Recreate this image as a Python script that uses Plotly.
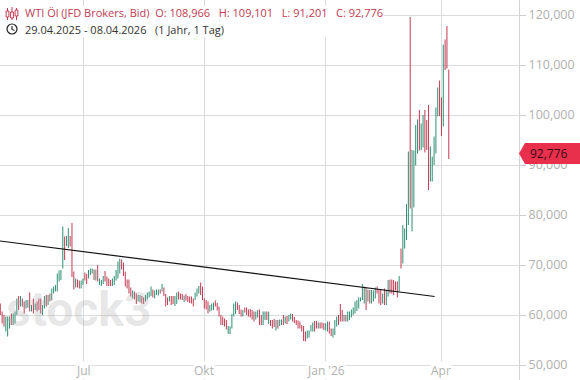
import plotly.graph_objects as go

bar_high = [
 62.3,60.7,60,59.7,59.7,59.7,60.3,60.3,60.7,63.3,
 63.8,63.8,63.3,62.7,63,63,64.5,62,63.3,62.3,
 62.7,63.3,63.3,62,63.8,64,64,64.3,65.3,65.7,
 66,68.3,68.9,69,77.7,75.7,75.8,77.4,75.8,78.4,
 68.7,67.3,67.1,66.9,66.9,67.3,68.5,68.2,69,69.3,
 69.3,69.1,69.1,70,67.3,67,67.8,68.8,67.7,67.3,
 67,67.3,67.8,69,70.7,71.3,71.1,70.5,68.7,67.1,
 67.1,65.5,64.9,64.7,64.3,64,64,63.8,63.5,64,
 64.5,64.7,65.7,65.1,64.9,65.1,65.1,65.1,66.2,65.5,
 64.2,63.5,63.8,63.8,63.8,63.8,64.5,64.7,64.3,64.2,
 63.9,64.2,63.8,63.7,63.7,63.3,64.5,65.3,65.8,66.5,
 65.7,63.3,63,62.7,62,62.3,62.5,62.9,62.4,61.7,
 60,59.7,59.3,59,57.8,57.7,60.2,62.3,62.7,62.5,
 62,61.1,61,61.5,61.5,61.1,61.2,61,60.7,60.7,
 61,61.1,60,60.7,60.7,60.7,60.7,59,59,59.2,
 59,59,59.1,59.1,60,59.7,59.8,60,60.3,60.2,
 59.6,59,58.9,58.7,58,57.8,56.7,56.9,56.9,58,
 58.5,58.8,58.8,58.5,58.5,58.5,58.4,58.3,58.7,58.7,
 57.3,57.3,59,59.7,60,62.2,61,60,60,60.7,
 60.7,61.1,61.5,62.7,63,63.5,63.5,66.2,65.7,65.5,
 65.1,65,65,64.9,65.5,65.7,65,65,64.3,65.3,
 65,67,67.1,67.1,67,66.7,66.7,67.8,73.3,78,
 77.3,82.2,92.7,119.6,93,92.9,98,99.1,101,98.3,
 100,101,99,102,93.7,91.7,95.7,101.5,105.5,106.9,
 103.5,114.1,115.1,117.8,109.101,
]
bar_low = [
 60,58.3,57.7,56.7,55.7,57.3,58,58,58.3,60,
 61,61.7,61.7,60.3,61.3,61.5,60.7,60.7,60.3,61,
 60.7,61,60.3,60,61.3,61.7,62,62.7,62.9,64.3,
 64.7,64.7,66.7,67,69.3,71,73.8,73.4,73.7,67.6,
 65.1,65.5,65.5,65.3,65.3,66,66.9,66.2,67.3,68,
 68.3,67,66.9,66.7,66,65.8,66.2,66.7,65.8,65.8,
 65.8,65.8,66,66.9,67.3,68.3,69.1,67.8,65.7,65.3,
 64.3,63.7,63.3,63.1,62.2,62.7,62.5,62.3,62.2,62.7,
 63.1,63.5,63.8,63.5,63.3,64,63.9,64.3,64.7,63.8,
 61.7,62,62.7,62,62.2,61.8,62.2,63.1,63.1,63,
 62.6,62.9,62.6,62.4,62.3,61.7,63,63.7,64.3,64,
 63,61.3,61.1,60.3,60.7,60.9,61,61.7,60.9,59.7,
 58,58,57.7,57.1,56.2,56.2,57.3,59.7,60.2,61,
 60.2,59.7,59.7,60.5,60,59.7,59.5,59.1,58.7,59.1,
 59.5,58,58,58,59,59,58.2,57.8,57.3,57.6,
 56.9,57.3,57.8,58,58,58.3,58.2,58.7,59.1,58.7,
 58.4,58,57.3,57.3,56.7,54.8,54.7,55.3,55.5,56.7,
 56.7,56.7,57.3,57.3,57.3,57.3,57,56.9,56.7,56.3,
 55.8,55.5,56,57.7,58,58.7,58.7,58.7,58.7,58.7,
 59,59.5,60,60.3,60.8,61.3,62.7,63,62.3,61,
 62.7,62.3,62.3,62.7,63.3,64.3,62.3,62,62.3,62,
 62,63.7,64.3,64.3,64,64.9,63.5,64.7,69.3,70.3,
 73.3,75,78,81.3,76.7,81.5,89.9,92.3,92.9,93,
 93.5,92.5,93,85,86.7,86.7,90,92.3,99.7,99.8,
 95.8,97.7,109,109.3,91.201,
]
# r = falling bar, g = rising bar
bar_dir = ("rrrgggrggg" "rgrrggrgrg" "rrrggrgrgg" "gggggrggrr" "rgrrggrrgg"
           "grgrgggrrr" "rgggggrrrr" "rrgrrggrrg" "gggrgggrgr" "rrgrrggrrr"
           "grrrrrgggr" "rrrrgggrrr" "rrrrgggggr" "rrgrrrrrrg" "grrggrgrrr"
           "grggrgrggr" "rrrrrrrggg" "grrgrrrggr" "rgggrrrgrg" "gggggggggr"
           "grgggrrrgr" "ggrrrrrgrg" "gggrggggrg" "grrrgggggr" "rgrrr")
bar_index = list(range(len(bar_high)))

month_index = [45, 111, 177, 240]
month_labels = ["Jul", "Okt", "Jan '26", "Apr"]
price_ticks = [50, 60, 70, 80, 90, 100, 110, 120]
trend_index = [-0.16, 236.3]
trend_value = [74.8, 63.7]
last_price = 92.776

header_line1 = "WTI Öl (JFD Brokers, Bid)  O: 108,966   H: 109,101   L: 91,201   C: 92,776"
header_line2 = "29.04.2025 - 08.04.2026   (1 Jahr, 1 Tag)"

UP, DOWN = "#2f8f74", "#c23a52"
bar_open = [h if d == "r" else l for h, l, d in zip(bar_high, bar_low, bar_dir)]
bar_close = [l if d == "r" else h for h, l, d in zip(bar_high, bar_low, bar_dir)]

fig = go.Figure()
fig.add_trace(go.Ohlc(
    x=bar_index, open=bar_open, high=bar_high, low=bar_low, close=bar_close,
    tickwidth=0,
    increasing=dict(line=dict(color=UP, width=1)),
    decreasing=dict(line=dict(color=DOWN, width=1)),
    showlegend=False, hoverinfo="skip"))
fig.add_trace(go.Scatter(x=trend_index, y=trend_value, mode="lines",
                         line=dict(color="#111111", width=1.2),
                         showlegend=False, hoverinfo="skip"))

W = 519.0
H = 380.0
def px(v): return v / W
def py(v): return 1 - v / H

shapes = [
    dict(type="rect", xref="paper", yref="paper", x0=0, x1=px(383), y0=py(37), y1=py(6),
         fillcolor="white", line_width=0, layer="above"),
    dict(type="path", xref="paper", yref="paper", layer="above",
         path=f"M {px(519)} {py(153.5)} L {px(525)} {py(143)} L {px(580)} {py(143)} "
              f"L {px(580)} {py(164)} L {px(525)} {py(164)} Z",
         fillcolor="#e8304c", line_width=0),
    dict(type="circle", xref="paper", yref="paper", x0=px(7), x1=px(17), y0=py(34), y1=py(24),
         line=dict(color="#222222", width=1.2), layer="above"),
    dict(type="path", xref="paper", yref="paper", layer="above",
         path=f"M {px(12)} {py(26)} L {px(12)} {py(29.5)} L {px(14.5)} {py(30.5)}",
         line=dict(color="#222222", width=1.1)),
]
for cx, a, b, c, d in [(7.5, 8, 20, 11, 17), (12, 7, 20, 12, 18), (16.5, 8, 20, 10, 16)]:
    shapes.append(dict(type="line", xref="paper", yref="paper", layer="above",
                       x0=px(cx), x1=px(cx), y0=py(a), y1=py(b),
                       line=dict(color="#c23a52", width=1)))
    shapes.append(dict(type="rect", xref="paper", yref="paper", layer="above",
                       x0=px(cx - 1.4), x1=px(cx + 1.4), y0=py(c), y1=py(d),
                       fillcolor="white", line=dict(color="#c23a52", width=1)))

annotations = [
    dict(text="<b>stock3</b>", xref="paper", yref="paper", x=px(4), y=py(309), xanchor="left", yanchor="middle",
         showarrow=False, font=dict(family="Roboto", size=48, color="rgba(170,170,170,0.28)")),
    dict(text=header_line1.replace(" ", "&nbsp;"), xref="paper", yref="paper", x=px(23), y=py(13),
         xanchor="left", yanchor="middle", showarrow=False,
         font=dict(family="Open Sans", size=11, color="#c23a52")),
    dict(text=header_line2.replace(" ", "&nbsp;"), xref="paper", yref="paper", x=px(23), y=py(29),
         xanchor="left", yanchor="middle", showarrow=False,
         font=dict(family="Open Sans", size=11, color="#333333")),
    dict(text=f"{last_price:.3f}".replace(".", ","), xref="paper", yref="paper", x=px(548.5), y=py(153.5),
         xanchor="center", yanchor="middle", showarrow=False,
         font=dict(family="Open Sans", size=12, color="#3a0a12")),
]
for i, lab in zip(month_index, month_labels):
    annotations.append(dict(text=lab, x=i, xref="x", yref="paper", y=py(370), yanchor="middle",
                            xanchor="center", showarrow=False, bgcolor="white", borderpad=0,
                            font=dict(family="Open Sans", size=12, color="#b0b0b0")))

fig.update_layout(
    width=580, height=380, autosize=False,
    margin=dict(l=0, r=61, t=0, b=0),
    paper_bgcolor="white", plot_bgcolor="white",
    separators=",.",
    shapes=shapes, annotations=annotations,
    xaxis=dict(range=[-0.16, 282.2], rangeslider=dict(visible=False),
               tickvals=month_index, showticklabels=False,
               showgrid=True, gridcolor="#dcdcdc", gridwidth=1,
               ticks="inside", ticklen=5, tickcolor="#c8c8c8", zeroline=False, showline=False),
    yaxis=dict(side="right", range=[47, 123], tickvals=price_ticks, tickformat=".3f",
               showgrid=True, gridcolor="#dcdcdc", gridwidth=1, zeroline=False,
               ticks="outside", ticklen=6, tickcolor="#cfcfcf",
               showline=True, linecolor="#d4d4d4", linewidth=1,
               tickfont=dict(family="Open Sans", size=12.5, color="#b0b0b0")),
)
assert len(bar_high) == len(bar_low) == len(bar_dir)
fig.write_html("out.html", config=dict(displayModeBar=False),
               post_script="document.body.style.margin='0';document.documentElement.style.overflow='hidden';")
